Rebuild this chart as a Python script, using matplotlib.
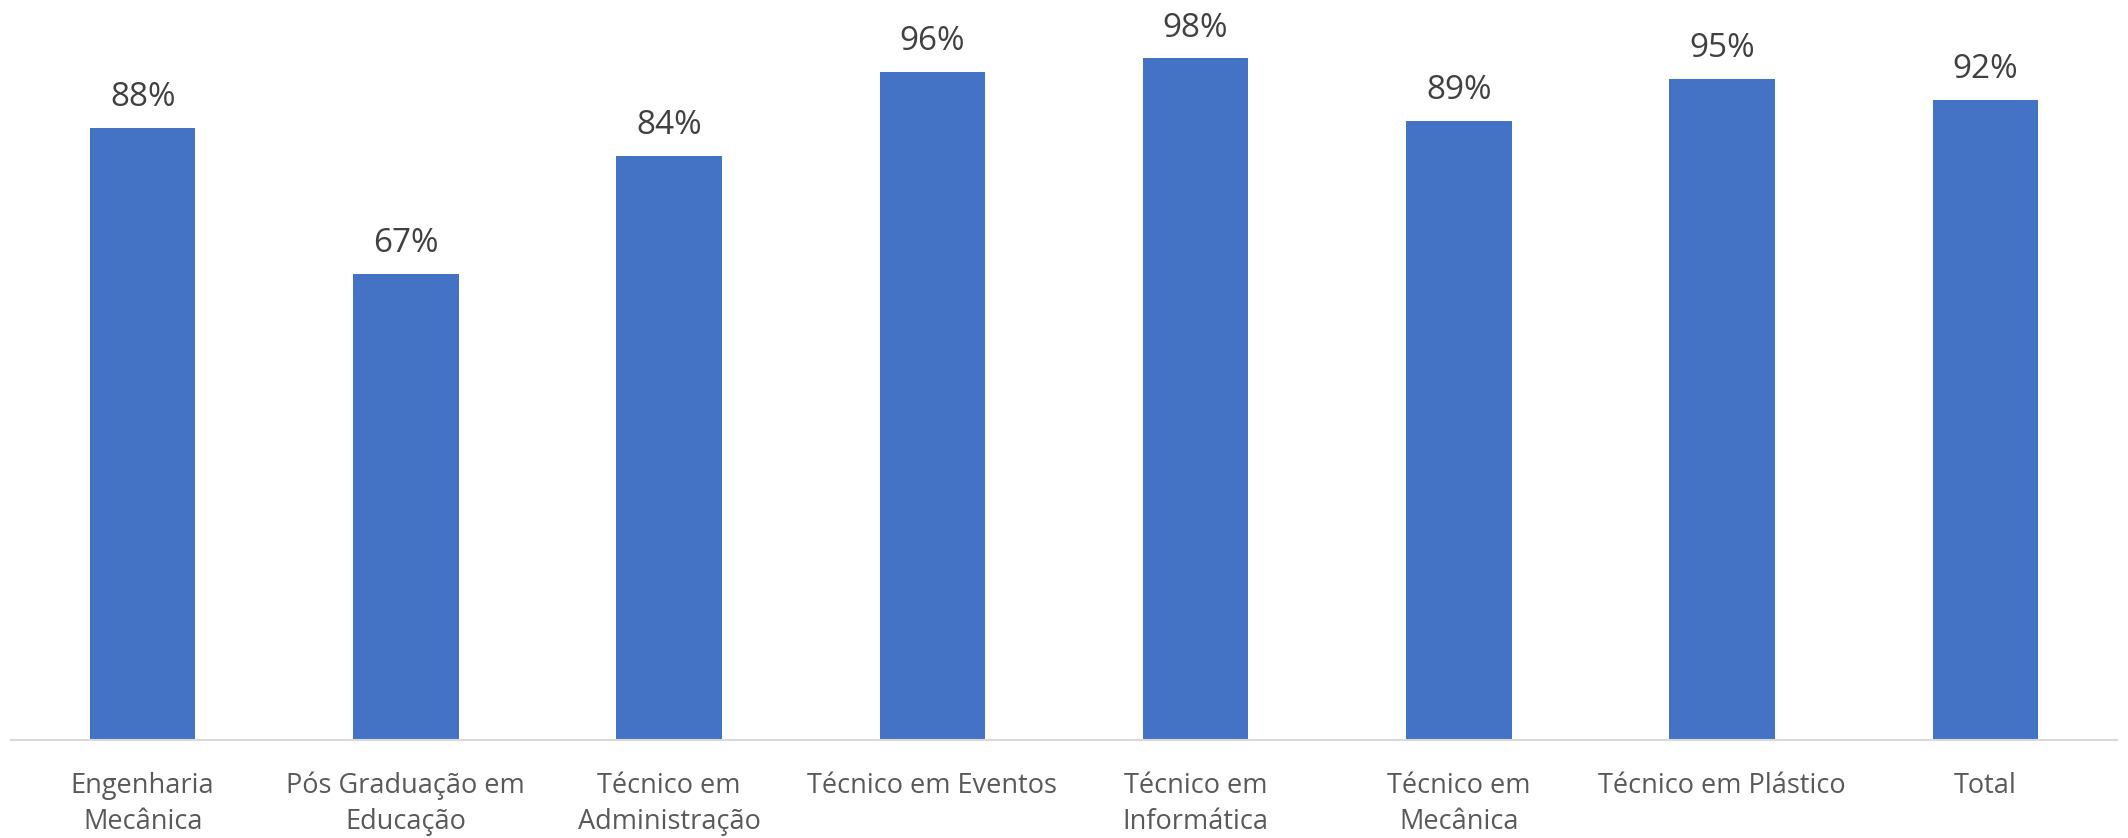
import matplotlib
matplotlib.use("Agg")
import matplotlib.pyplot as plt

categories = ["Engenharia\nMecânica", "Pós Graduação em\nEducação", "Técnico em\nAdministração",
              "Técnico em Eventos", "Técnico em\nInformática", "Técnico em\nMecânica",
              "Técnico em Plástico", "Total"]
values = [0.88, 0.67, 0.84, 0.96, 0.98, 0.89, 0.95, 0.92]
labels = ["88%", "67%", "84%", "96%", "98%", "89%", "95%", "92%"]

plt.rcParams['font.family'] = ['Open Sans', 'DejaVu Sans']

fig = plt.figure(figsize=(21.28, 8.38), dpi=100)
ax = fig.add_axes([11/2128, 98/838, 2106/2128, 740/838])

x = list(range(len(categories)))
bars = ax.bar(x, values, width=0.4, color="#4472C4", zorder=2)
for xi, v, lab in zip(x, values, labels):
    ax.annotate(lab, (xi, v), xytext=(0, 10), textcoords="offset points",
                ha="center", va="bottom", fontsize=24, color="#404040", clip_on=False)

ax.set_xlim(-0.5, len(categories) - 0.5)
ax.set_ylim(0, 1.064)
ax.set_xticks(x)
ax.set_xticklabels(categories, fontsize=19.5, color="#595959", linespacing=1.36)
ax.tick_params(axis="x", length=0, pad=23)
ax.set_yticks([])
for s in ["top", "right", "left"]:
    ax.spines[s].set_visible(False)
ax.spines["bottom"].set_color("#D9D9D9")
ax.spines["bottom"].set_linewidth(1.5)

fig.savefig("out.png", dpi=100, facecolor="white")
